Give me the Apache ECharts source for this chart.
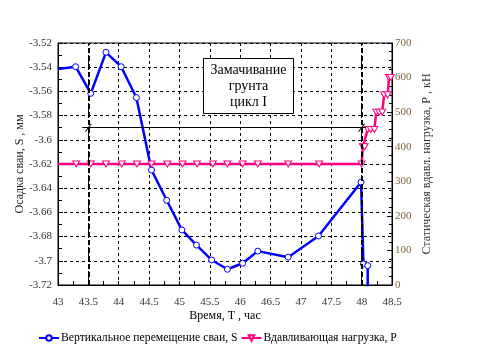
<!DOCTYPE html>
<html>
<head>
    <meta charset="UTF-8">
    <script src="https://cdn.jsdelivr.net/npm/echarts@6/dist/echarts.min.js"></script>
    <style>
        body { margin: 0; background: #fff; }
        #chart { width: 480px; height: 352px; }
    </style>
</head>
<body>
    <div id="chart"></div>
    <script>
        // settlement of the pile, S (left axis)
        var timeS = [43.0, 43.29, 43.54, 43.79, 44.04, 44.29, 44.54, 44.79, 45.04, 45.28, 45.53, 45.79,
            46.04, 46.29, 46.79, 47.29, 47.99, 48.03, 48.10, 48.10];
        var settle = [-3.5415, -3.5396, -3.5616, -3.5277, -3.5396, -3.5651, -3.625, -3.650, -3.6745, -3.687,
            -3.6993, -3.707, -3.702, -3.692, -3.697, -3.6795, -3.635, -3.7026, -3.704, -3.73];
        // pressing load, P (right axis)
        var timeP = [43.0, 43.30, 43.54, 43.79, 44.05, 44.30, 44.54, 44.80, 45.05, 45.29, 45.55, 45.79,
            46.04, 46.29, 46.79, 47.30, 48.00, 48.02, 48.05, 48.10, 48.15, 48.21, 48.24, 48.29, 48.34,
            48.37, 48.43, 48.45, 48.48];
        var load = [350, 350, 350, 350, 350, 350, 350, 350, 350, 350, 350, 350, 350, 350, 350, 350, 350,
            400, 400, 450, 450, 450, 500, 500, 500, 550, 550, 600, 600];
        // soaking interval marks
        var soakStart = 43.5;
        var soakEnd = 48;
        var soakLevel = -3.59;
        var soakText = ['Замачивание', 'грунта', 'цикл I'];

        var serif = 'Liberation Serif';
        var blue = '#0000ff';
        var pink = '#ff0080';

        function pairs(xs, ys) {
            return xs.map(function (x, i) {
                var p = { value: [x, ys[i]] };
                if (i === 0) p.symbol = 'none';
                return p;
            });
        }

        var chart = echarts.init(document.getElementById('chart'), null, { renderer: 'canvas' });

        var option = {
            backgroundColor: '#fff',
            animation: false,
            grid: {
                left: 58, right: 88, top: 43, bottom: 67, outerBoundsMode: 'none',
                show: true, borderColor: '#000', borderWidth: 1
            },
            legend: {
                left: 33, top: 327,
                itemWidth: 20, itemHeight: 7, itemGap: 3,
                data: ['Вертикальное перемещение сваи, S', 'Вдавливающая нагрузка, P'],
                textStyle: { fontFamily: serif, fontSize: 11.7, color: '#000', padding: [0, 0, 0, -3] }
            },
            xAxis: {
                type: 'value', min: 43, max: 48.5, interval: 0.5,
                name: 'Время, Т , час', nameLocation: 'middle', nameGap: 25, nameMoveOverlap: false,
                nameTextStyle: { fontFamily: serif, fontSize: 12, color: '#000' },
                axisLine: { lineStyle: { color: '#000', width: 1 } },
                axisTick: { inside: true, length: 4, lineStyle: { color: '#000' } },
                minorTick: { show: true, splitNumber: 2, length: 4, lineStyle: { color: '#000' } },
                axisLabel: { fontFamily: serif, fontSize: 11, color: '#333', margin: 12 },
                splitLine: { show: true, lineStyle: { color: '#000', type: [3, 3], width: 1 } }
            },
            yAxis: [{
                type: 'value', min: -3.72, max: -3.52, interval: 0.02,
                name: 'Осадка сваи, S , мм', nameLocation: 'middle', nameGap: 32, nameMoveOverlap: false,
                nameTextStyle: { fontFamily: serif, fontSize: 12, color: '#222' },
                axisLine: { show: true, lineStyle: { color: '#000', width: 1 } },
                axisTick: { inside: true, length: 5, lineStyle: { color: '#000' } },
                minorTick: { show: true, splitNumber: 2, length: 4, lineStyle: { color: '#000' } },
                axisLabel: {
                    fontFamily: serif, fontSize: 11, color: '#333', margin: 6,
                    formatter: function (v) { return String(Number(v.toFixed(2))); }
                },
                splitLine: { show: true, lineStyle: { color: '#000', type: [3, 3], width: 1 } }
            }, {
                type: 'value', min: 0, max: 700, interval: 100, position: 'right',
                name: 'Статическая вдавл. нагрузка, Р , кН', nameLocation: 'middle', nameGap: 29,
                nameMoveOverlap: false, nameRotate: 90,
                nameTextStyle: { fontFamily: serif, fontSize: 12, color: '#3a2a3a' },
                axisLine: { show: true, lineStyle: { color: '#000', width: 1 } },
                axisTick: { inside: true, length: 5, lineStyle: { color: '#000' } },
                minorTick: { show: true, splitNumber: 4, length: 3, lineStyle: { color: '#000' } },
                axisLabel: { fontFamily: serif, fontSize: 11, color: '#806838', margin: 3 },
                splitLine: { show: false }
            }],
            series: [{
                // annotation layer: soaking start / end and dimension line
                type: 'line', name: 'soak', data: [], silent: true,
                markLine: {
                    silent: true, symbol: 'none', label: { show: false },
                    lineStyle: { color: '#000', type: [5, 3], width: 2 },
                    data: [
                        { xAxis: soakStart },
                        { xAxis: soakEnd },
                        [{ coord: [soakStart - 0.1, soakLevel], lineStyle: { type: 'solid', width: 1 } },
                         { coord: [soakEnd + 0.07, soakLevel] }]
                    ]
                },
                markPoint: {
                    silent: true, symbol: 'path://M0,10 L10,0', symbolSize: [6, 8],
                    itemStyle: { color: 'none', borderColor: '#000', borderWidth: 1 },
                    label: { show: false },
                    data: [{ coord: [soakStart, soakLevel] }, { coord: [soakEnd, soakLevel] }]
                }
            }, {
                name: 'Вертикальное перемещение сваи, S',
                type: 'line', yAxisIndex: 0,
                data: pairs(timeS, settle),
                symbol: 'circle', symbolSize: 6,
                lineStyle: { color: blue, width: 2.5 },
                itemStyle: { color: '#fff', borderColor: blue, borderWidth: 1 },
                z: 3
            }, {
                name: 'Вдавливающая нагрузка, P',
                type: 'line', yAxisIndex: 1,
                data: pairs(timeP, load),
                symbol: 'path://M0,0 L10,0 L5,8 Z', symbolSize: [7, 6],
                lineStyle: { color: pink, width: 2.5 },
                itemStyle: { color: '#fff', borderColor: pink, borderWidth: 1 },
                z: 4
            }],
            graphic: [{
                type: 'group', left: 203, top: 58, z: 100,
                children: [{
                    type: 'rect', shape: { x: 0, y: 0, width: 90, height: 55 }, z: 100,
                    style: { fill: '#fff', stroke: '#000', lineWidth: 1 }
                }, {
                    type: 'text', x: 45, y: 4, z: 101,
                    style: {
                        text: soakText.join('\n'), align: 'center', lineHeight: 16,
                        font: '14px "Liberation Serif"', fill: '#000'
                    }
                }]
            }]
        };

        chart.setOption(option);
        window.addEventListener('resize', chart.resize);
    </script>
</body>
</html>
